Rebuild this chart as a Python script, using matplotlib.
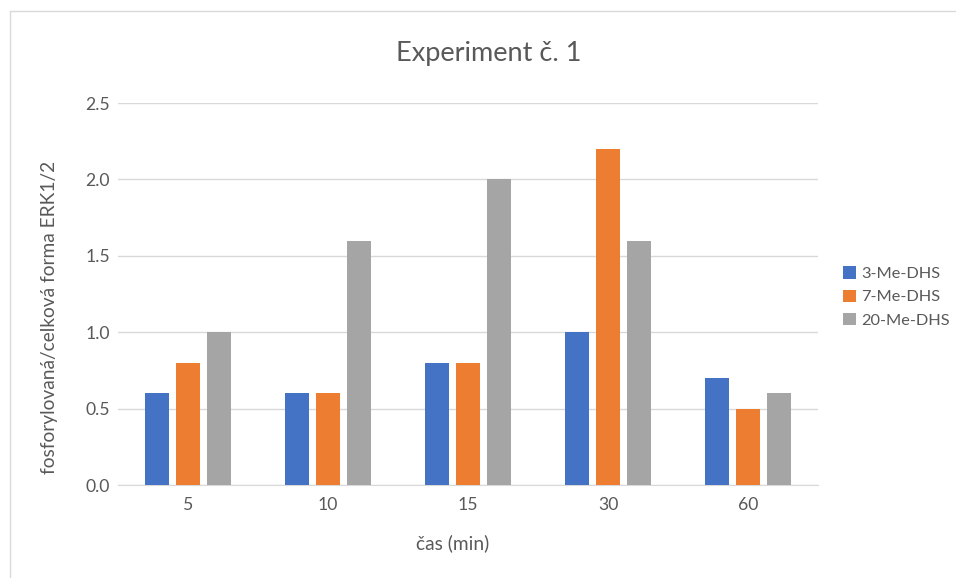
import matplotlib
matplotlib.use("Agg")
import matplotlib.pyplot as plt
from matplotlib.patches import Rectangle
import numpy as np

categories = ["5", "10", "15", "30", "60"]
series_names = ["3-Me-DHS", "7-Me-DHS", "20-Me-DHS"]
s1 = [0.6, 0.6, 0.8, 1.0, 0.7]
s2 = [0.8, 0.6, 0.8, 2.2, 0.5]
s3 = [1.0, 1.6, 2.0, 1.6, 0.6]
colors = ["#4472C4", "#ED7D31", "#A5A5A5"]
yticks = [0.0, 0.5, 1.0, 1.5, 2.0, 2.5]

plt.rcParams['font.family'] = ['Lato', 'DejaVu Sans']
txt = "#595959"

fig = plt.figure(figsize=(9.56, 5.78), dpi=100)
fig.patches.append(Rectangle((10/956, -0.01), 1.0, 1 - 10.5/578 + 0.01, transform=fig.transFigure,
                             fill=False, edgecolor="#D9D9D9", linewidth=1.0))
ax = fig.add_axes([118/956, 1 - 485/578, 700/956, (485 - 103)/578])

x = np.arange(len(categories))
w = 0.175
off = 0.222
for i, (vals, name) in enumerate(zip([s1, s2, s3], series_names)):
    ax.bar(x + (i - 1) * off, vals, width=w, color=colors[i], label=name, zorder=3)

ax.set_xlim(-0.5, len(categories) - 0.5)
ax.set_ylim(0, 2.5)
ax.set_yticks(yticks)
ax.set_yticklabels([f"{v:.1f}" for v in yticks])
ax.set_xticks(x)
ax.set_xticklabels(categories)
ax.grid(axis="y", color="#D9D9D9", linewidth=1, zorder=0)
for s in ["top", "right", "left"]:
    ax.spines[s].set_visible(False)
ax.spines["bottom"].set_color("#D9D9D9")
ax.tick_params(axis="both", length=0, colors=txt, labelsize=12.7)
ax.tick_params(axis="y", pad=6)
ax.tick_params(axis="x", pad=9)

fig.text(488.5/956, 1 - 54/578, "Experiment č. 1", ha="center", va="center", fontsize=19.5, color=txt)
fig.text(453/956, 1 - 543/578, "čas (min)", ha="center", va="center", fontsize=13.8, color=txt)
fig.text(50/956, 1 - 317.5/578, "fosforylovaná/celková forma ERK1/2", ha="center", va="center",
         rotation=90, fontsize=13.8, color=txt)

leg = fig.legend(loc="center left", bbox_to_anchor=(828/956, 1 - 297/578), frameon=False,
                 fontsize=11.8, handlelength=0.8, handleheight=0.8, handletextpad=0.35,
                 labelspacing=0.5, labelcolor=txt)

fig.savefig("out.png", dpi=100)
